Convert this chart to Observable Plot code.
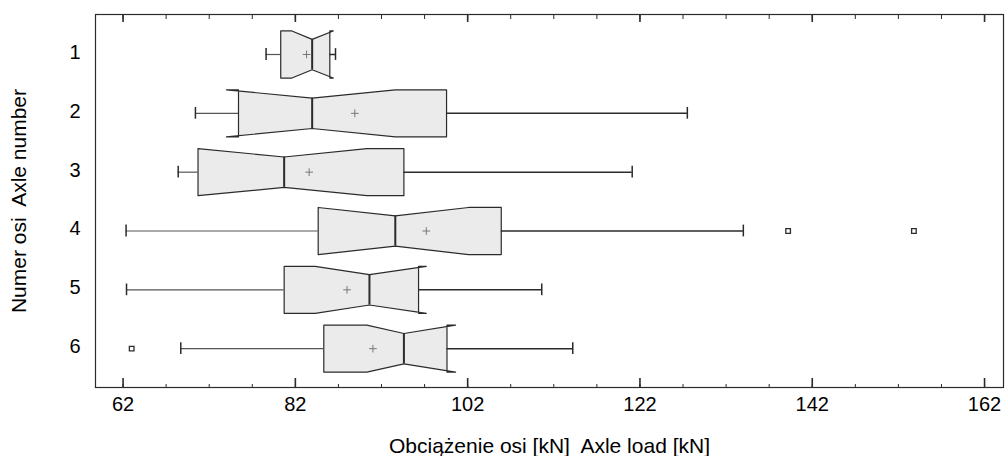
<!DOCTYPE html>
<html><head><meta charset="utf-8">
<script src="https://cdn.jsdelivr.net/npm/d3@7"></script>
<script src="https://cdn.jsdelivr.net/npm/@observablehq/plot@0.6"></script>
<style>body{margin:0;background:#fff}</style>
</head><body><div id="chart"></div>
<script>
// ---- data ----
const axles       = [1, 2, 3, 4, 5, 6];
const whiskerLow  = [78.6, 70.4, 68.4, 62.35, 62.4, 68.7];
const q1          = [80.3, 75.4, 70.7, 84.65, 80.7, 85.3];
const notchLow    = [81.6, 74.0, 70.7, 84.65, 84.3, 90.3];
const median      = [83.95, 83.95, 80.7, 93.6, 90.6, 94.6];
const notchHigh   = [86.4, 93.6, 90.3, 102.1, 97.2, 100.6];
const q3          = [86.0, 99.55, 94.6, 105.9, 96.3, 99.6];
const whiskerHigh = [86.66, 127.5, 121.1, 134.0, 110.6, 114.2];
const means       = [83.3, 88.9, 83.6, 97.2, 88.0, 91.0];
const outlierAxle  = [4, 4, 6];
const outlierValue = [139.2, 153.8, 63.0];
const xTickLabels = [62, 82, 102, 122, 142, 162];
const yTickLabels = [1, 2, 3, 4, 5, 6];
const xTitle = "Obciążenie osi [kN]\u00a0 Axle load [kN]";
const yTitle = "Numer osi\u00a0 Axle number";

// ---- build tables ----
const boxes = axles.map((a, i) => ({
  axle: a, wLo: whiskerLow[i], q1: q1[i], nLo: notchLow[i], med: median[i],
  nHi: notchHigh[i], q3: q3[i], wHi: whiskerHigh[i], mean: means[i]
}));
const HALF = 0.40, WAIST = 0.258, CAP = 0.10;
const poly = boxes.flatMap(b => [
  [b.q1, b.axle - HALF], [b.nLo, b.axle - HALF], [b.med, b.axle - WAIST],
  [b.nHi, b.axle - HALF], [b.q3, b.axle - HALF], [b.q3, b.axle + HALF],
  [b.nHi, b.axle + HALF], [b.med, b.axle + WAIST], [b.nLo, b.axle + HALF],
  [b.q1, b.axle + HALF]
].map(([x, y]) => ({axle: b.axle, x, y})));
const outliers = outlierAxle.map((a, i) => ({axle: a, value: outlierValue[i]}));
const minorTicks = d3.range(xTickLabels[0], xTickLabels[xTickLabels.length - 1] + 1, 5);

const W = 1005, Hgt = 456, mL = 95, mR = 2, mT = 14, mB = 69;
const FH = Hgt - mT - mB;
const ink = "#2b2b2b";
const font = "'Liberation Sans', Arial, sans-serif";

const chart = Plot.plot({
  width: W, height: Hgt,
  marginLeft: mL, marginRight: mR, marginTop: mT, marginBottom: mB,
  style: {fontFamily: font, fontSize: "20px", color: "#000", background: "#fff"},
  x: {domain: [58.8, 164.2]},
  y: {domain: [0.32, 6.66], reverse: true},
  marks: [
    // box bodies with notches
    Plot.line(poly, {x: "x", y: "y", z: "axle", curve: "linear-closed", fill: "#ebebeb", stroke: ink, strokeWidth: 1.2}),
    // whiskers
    Plot.ruleY(boxes, {y: "axle", x1: "wLo", x2: "q1", stroke: "#555", strokeWidth: 1.2}),
    Plot.ruleY(boxes, {y: "axle", x1: "q3", x2: "wHi", stroke: ink, strokeWidth: 1.5}),
    Plot.ruleX(boxes, {x: "wLo", y1: d => d.axle - CAP, y2: d => d.axle + CAP, stroke: ink, strokeWidth: 1.5}),
    Plot.ruleX(boxes, {x: "wHi", y1: d => d.axle - CAP, y2: d => d.axle + CAP, stroke: ink, strokeWidth: 1.5}),
    // medians
    Plot.ruleX(boxes, {x: "med", y1: d => d.axle - WAIST, y2: d => d.axle + WAIST, stroke: ink, strokeWidth: 2}),
    // means
    Plot.dot(boxes, {x: "mean", y: "axle", symbol: "plus", r: 2.6, stroke: "#777", strokeWidth: 1}),
    // outliers
    Plot.dot(outliers, {x: "value", y: "axle", symbol: "square", r: 2.6, stroke: ink, fill: "#fff", strokeWidth: 1.3}),
    // inner ticks (top)
    Plot.ruleX(minorTicks, {x: d => d, insetBottom: FH - 5, stroke: ink, strokeWidth: 1}),
    Plot.ruleX(xTickLabels, {x: d => d, insetBottom: FH - 8, stroke: ink, strokeWidth: 1.6}),
    // inner ticks (bottom)
    Plot.ruleX(minorTicks, {x: d => d, insetTop: FH - 3, stroke: ink, strokeWidth: 1}),
    Plot.ruleX(xTickLabels, {x: d => d, insetTop: FH - 9, stroke: ink, strokeWidth: 1.6}),
    // axes tick labels
    Plot.axisX(xTickLabels, {anchor: "bottom", tickSize: 0, tickPadding: 9, fontSize: 20, label: null, tickFormat: d => String(d)}),
    Plot.axisY(yTickLabels, {anchor: "left", tickSize: 0, tickPadding: 15, fontSize: 20, dy: -2, label: null, tickFormat: d => String(d)}),
    // axis titles
    Plot.text([xTitle], {frameAnchor: "bottom", lineAnchor: "middle", textAnchor: "middle", dy: 59, fontSize: 21, fill: "#000", text: d => d}),
    Plot.text([yTitle], {frameAnchor: "left", lineAnchor: "middle", textAnchor: "middle", rotate: -90, dx: -76, fontSize: 21, fill: "#000", text: d => d}),
    Plot.frame({stroke: ink, strokeWidth: 1.2})
  ]
});
document.getElementById("chart").appendChild(chart);
</script></body></html>
